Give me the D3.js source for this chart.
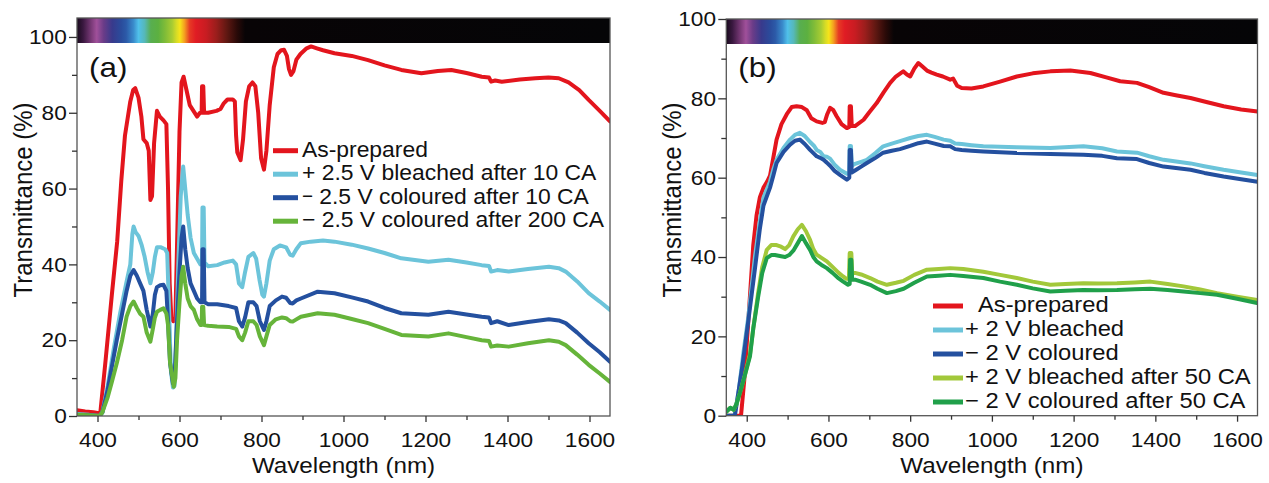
<!DOCTYPE html>
<html><head><meta charset="utf-8">
<script src="https://cdn.jsdelivr.net/npm/d3@7"></script>
<style>
body{margin:0;background:#fff;}
svg{display:block;font-family:"Liberation Sans",Arial,Helvetica,sans-serif;}
</style></head><body>
<svg id="c" width="1269" height="483"></svg>
<script>
// ---------- DATA ----------
const xMajorTicks = [400, 600, 800, 1000, 1200, 1400, 1600];
const xMinorTicks = [500, 700, 900, 1100, 1300, 1500];
const yMajorTicks = [0, 20, 40, 60, 80, 100];
const yMinorTicks = [10, 30, 50, 70, 90];

const legendA = ["As-prepared", "+ 2.5 V bleached after 10 CA", "− 2.5 V coloured after 10 CA", "− 2.5 V coloured after 200 CA"];
const legendB = ["As-prepared", "+ 2 V bleached", "− 2 V coloured", "+ 2 V bleached after 50 CA", "− 2 V coloured after 50 CA"];

const asPreparedA = [[350,1.5],[370,1.2],[390,1],[400,0.8],[407,1],[420,15],[435,32],[448,46],[458,62],[467,74],[480,83],[487,86],[492,86.5],[500,84],[507,79],[512,73],[520,72],[525,70],[529,57],[533,58],[538,72],[545,80.5],[552,79],[561,78],[568,77],[572,60],[576,35],[580,26],[585,25],[590,26],[594,45],[600,75],[605,88],[610,89.5],[617,86],[625,82],[634,80.5],[643,79],[650,80],[654,80],[655,87],[658,87],[660,80],[670,80],[690,80.5],[700,81],[708,82.5],[717,83.5],[730,83.5],[735,83],[738,74],[741,69.5],[749,67.5],[755,73],[762,83],[770,87],[778,88],[785,87],[792,80],[799,68],[806,65],[812,70],[820,82],[830,92],[839,95.5],[848,96.5],[855,96.6],[862,95],[867,91.5],[872,90],[878,91],[885,94],[895,95.5],[910,97],[921,97.5],[935,97],[950,96.5],[978,95.7],[1020,95],[1060,93.9],[1100,92.5],[1141,91.3],[1190,90.4],[1230,91],[1263,91.3],[1300,90.5],[1337,89.5],[1355,89.3],[1360,88.2],[1370,88.5],[1386,88.2],[1430,88.8],[1468,89.1],[1500,89.3],[1525,89.1],[1549,88],[1575,86],[1598,83.4],[1625,80.5],[1650,77.7]];
const bleachedA = [[350,0.5],[380,0.3],[405,0],[412,1],[425,8],[440,18],[455,27],[470,35],[480,40],[485,48],[488,50],[493,48.5],[500,47.5],[508,45],[515,42],[522,38],[529,35],[535,38],[540,42],[545,44.5],[555,44.5],[565,44],[570,43],[574,30],[579,12],[584,7.5],[588,8],[592,20],[597,40],[603,58],[609,65.8],[614,60],[620,53],[627,47],[635,43],[643,41.5],[651,40],[655,40.5],[656,55],[659,55],[661,40.5],[670,39.5],[692,39.8],[710,40.5],[730,41],[738,40],[745,35],[753,34],[760,38],[768,42],[780,43],[787,41.5],[795,36],[802,32],[806,31.5],[812,35],[820,41],[830,44],[845,45],[860,44.5],[870,42.5],[876,42.3],[885,44],[896,45.6],[920,46],[950,46.3],[978,46],[1020,45.2],[1060,44.2],[1100,43],[1141,41.6],[1207,40.7],[1256,41.2],[1300,40.5],[1337,39.8],[1355,39.6],[1360,38.1],[1375,38.5],[1403,38.1],[1450,38.8],[1501,39.4],[1525,39],[1542,38.1],[1570,35.5],[1598,32.4],[1625,30.2],[1650,28]];
const coloured10A = [[350,0.3],[380,0.2],[405,0],[412,1],[425,7],[435,13],[447,20],[460,27],[471,33],[480,37],[488,38.5],[496,37],[504,35],[512,33],[520,28],[529,23.6],[535,27],[540,32],[545,34],[553,34.5],[561,34.6],[568,33],[572,25],[577,14],[584,8.6],[588,10],[593,23],[600,38],[605,47],[609,50],[614,44],[620,39],[627,35],[635,33],[643,31],[651,30],[655,30],[656,44],[659,44],[661,30],[670,29.5],[692,29.5],[720,29],[738,28.5],[745,25],[753,23.6],[760,26],[768,30],[780,30],[788,29],[796,25],[806,22.7],[812,25],[820,29],[835,30.5],[850,31.5],[860,31.2],[870,29.8],[876,29.7],[885,30.5],[896,31],[937,32.8],[978,32.4],[1020,31.3],[1060,30.2],[1100,28.5],[1141,27.1],[1207,26.7],[1256,27.5],[1300,26.8],[1337,26.2],[1355,26],[1360,24.5],[1375,25],[1403,24],[1450,24.8],[1501,25.5],[1525,25.2],[1542,24.5],[1570,22],[1598,19.2],[1625,16.8],[1650,14.3]];
const coloured200A = [[350,0.3],[380,0.2],[405,0],[412,1],[425,5],[435,9],[447,13.9],[460,20],[471,26.2],[480,29],[488,30.2],[496,28.5],[504,27],[512,26.2],[520,22],[529,19.6],[535,23],[540,26],[545,27.5],[553,28],[561,28.4],[568,27],[572,24],[577,14],[586,7.7],[590,10],[594,20],[600,30],[605,37],[609,39.4],[614,35],[620,31],[627,29],[635,28],[643,25.5],[651,24],[654,24],[655,28.8],[658,28.8],[660,24],[670,23.8],[692,23.6],[720,23.5],[738,23],[745,21],[753,20],[760,22],[768,25],[780,25],[788,24],[796,21],[806,18.7],[812,21],[820,24],[835,25.5],[850,26],[860,25.8],[870,25],[876,24.9],[885,25.5],[896,26.2],[937,27.1],[978,26.7],[1020,25.6],[1060,24.5],[1100,23],[1141,21.4],[1207,21],[1256,21.8],[1300,20.8],[1337,20],[1355,19.8],[1360,18.3],[1375,18.6],[1403,18.3],[1450,19.2],[1501,20],[1525,19.6],[1542,18.7],[1570,16.2],[1598,13.5],[1625,11.2],[1650,9]];

const asPreparedB = [[350,0],[386,0],[394,9],[404,24],[416,43],[424,50.5],[432,55],[441,57.5],[450,59],[457,60.5],[465,65],[473,69.6],[485,73.5],[498,76],[510,77.8],[522,78],[535,77.8],[547,77],[558,75],[571,74.2],[585,73.8],[591,74],[597,76],[604,77.6],[612,77],[620,75.5],[632,73.5],[645,72.5],[651,72.8],[652,78],[655,78],[657,73],[665,73],[686,74.6],[700,76.5],[718,78.8],[735,81.5],[751,83.9],[765,85.5],[783,86.8],[792,86],[800,85.5],[810,87.5],[820,88.9],[830,88],[841,87],[852,86.5],[865,86],[880,85.5],[898,84.7],[905,85],[915,83.2],[926,82.6],[950,82.5],[979,83],[1020,84.2],[1061,85.5],[1100,86.3],[1143,86.8],[1192,87],[1241,86.4],[1280,85.3],[1314,84.3],[1355,83.9],[1385,82.8],[1420,81.4],[1450,80.8],[1486,80.1],[1520,79.2],[1567,78],[1610,77.2],[1650,76.7]];
const bleachedB = [[350,0],[370,0],[380,6],[392,16],[404,25],[420,40],[432,49],[441,55],[457,59],[465,62],[473,64.5],[490,67.5],[506,69.6],[518,70.8],[530,71.3],[542,70.5],[555,69],[565,68],[571,67],[580,66.5],[588,65.4],[596,65.3],[604,64.8],[615,63.3],[628,62],[645,61],[651,61.2],[652,68],[655,68],[657,63],[665,63.5],[680,64],[694,64.5],[715,66.2],[734,67.9],[755,68.6],[775,69.2],[800,70],[820,70.5],[841,70.8],[860,70.3],[882,69.6],[898,69.3],[910,68.6],[926,68.5],[950,68.2],[979,67.9],[1061,67.7],[1143,67.5],[1224,67.9],[1270,67.4],[1306,66.6],[1355,66.3],[1385,65.4],[1420,64.5],[1486,63.6],[1520,62.9],[1567,62],[1610,61.3],[1650,60.7]];
const colouredB = [[350,0],[371,0],[390,13],[404,24],[420,37],[432,47],[441,53],[457,57.5],[465,60.5],[473,63.7],[490,66.5],[506,68.3],[518,69.3],[530,69.6],[542,68.5],[555,67],[565,66],[571,65.4],[580,65],[588,64.5],[596,63.8],[604,63],[615,61.7],[628,60.7],[645,59.5],[651,60],[652,67],[655,67],[657,61.3],[665,61.8],[680,62.8],[694,63.7],[715,65],[734,66.3],[755,66.8],[775,67.2],[800,68],[820,68.7],[841,69.1],[860,68.6],[882,68],[898,67.9],[910,67.2],[926,67],[950,66.8],[979,66.6],[1061,66.2],[1143,66],[1224,65.8],[1270,65.5],[1306,64.9],[1355,64.7],[1385,63.7],[1420,62.8],[1486,62],[1520,61.2],[1567,60.3],[1610,59.6],[1650,59]];
const bleached50B = [[350,1],[360,2],[368,1.5],[375,3],[383,5.6],[395,10],[408,15.5],[416,22],[428,31],[438,37.5],[449,41.8],[460,43],[473,43],[484,42.6],[494,42],[504,43],[514,45.2],[525,47],[535,48.1],[545,46.5],[555,44.3],[563,42],[571,40.6],[583,39.8],[596,38.9],[610,37.5],[625,36],[636,35.1],[644,34.5],[650,34.5],[652,41],[656,41],[658,36],[665,36],[680,35.6],[702,34.7],[720,33.8],[743,33],[765,33.5],[784,34],[810,35.5],[841,36.8],[870,37],[898,37.2],[930,37],[979,36.3],[1020,35.5],[1061,34.7],[1100,33.8],[1143,33],[1180,33.2],[1224,33.4],[1260,33.3],[1306,33.4],[1350,33.6],[1388,33.8],[1430,33.2],[1469,32.6],[1510,31.8],[1551,30.9],[1600,30],[1649,29.2]];
const coloured50B = [[350,1],[360,2],[368,1.5],[375,3],[383,5.6],[395,10],[408,15],[416,22],[428,30],[438,36],[449,39.7],[460,40.5],[469,40.5],[484,40.2],[494,40],[504,40.5],[514,41.6],[525,43.5],[535,45.3],[545,43.5],[555,41.8],[563,40],[571,38.9],[583,38],[596,37.2],[610,36],[625,34.6],[636,33.8],[648,33],[652,33.2],[653,39.3],[656,39.3],[658,34.3],[665,34.3],[680,33.8],[702,33],[720,32],[743,30.9],[765,31.4],[784,32],[810,33.5],[841,35.1],[870,35.3],[898,35.5],[930,35.2],[979,34.7],[1020,33.8],[1061,33],[1100,32.1],[1143,31.3],[1180,31.5],[1224,31.7],[1260,31.6],[1306,31.7],[1350,31.9],[1388,32],[1430,31.7],[1469,31.3],[1510,30.9],[1551,30.5],[1600,29.5],[1649,28.4]];

// spectrum bar colours (wavelength, colour)
const spectrumStops = [[350,"#1a0b1e"],[365,"#3a1840"],[385,"#7a3a78"],[398,"#a0509a"],[415,"#6a3c88"],[436,"#383a8c"],[458,"#2a4c9c"],[470,"#2c5aa8"],[488,"#3a8ccc"],[500,"#50c0ea"],[515,"#56b8b8"],[530,"#58ae50"],[548,"#5cb040"],[565,"#80bc38"],[582,"#a8cc32"],[593,"#d8dc26"],[601,"#f6e41a"],[612,"#f4a020"],[625,"#e63a24"],[640,"#e01c24"],[665,"#c81c22"],[690,"#9a1e1c"],[715,"#601812"],[740,"#2a0a08"],[760,"#080406"],[1650,"#050507"]];

// ---------- DRAW ----------
const FONT = '"Liberation Sans", Arial, Helvetica, sans-serif';
const svg = d3.select("#c");
const defs = svg.append("defs");

function stext(g, x, y, str, size, sx, anchor) {
  return g.append("text")
    .attr("transform", `translate(${x},${y}) scale(${sx},1)`)
    .attr("font-size", size)
    .attr("font-family", FONT)
    .attr("text-anchor", anchor || "start")
    .attr("fill", "#111")
    .text(str);
}

function panel(cfg) {
  const g = svg.append("g");
  const x = d3.scaleLinear().domain([350, 1650]).range([cfg.x0, cfg.x1]);
  const y = d3.scaleLinear().domain([0, cfg.yMax]).range([cfg.yb, cfg.yt]);

  const clipId = "clip" + cfg.id;
  defs.append("clipPath").attr("id", clipId).append("rect")
    .attr("x", cfg.x0).attr("y", cfg.yt).attr("width", cfg.x1 - cfg.x0).attr("height", cfg.yb - cfg.yt);

  const gradId = "grad" + cfg.id;
  const grad = defs.append("linearGradient").attr("id", gradId)
    .attr("gradientUnits", "userSpaceOnUse")
    .attr("x1", x(350)).attr("x2", x(1650)).attr("y1", 0).attr("y2", 0);
  spectrumStops.forEach(s => grad.append("stop")
    .attr("offset", (x(s[0]) - x(350)) / (x(1650) - x(350)))
    .attr("stop-color", s[1]));

  // lines
  const line = d3.line().x(d => x(d[0])).y(d => y(d[1])).curve(d3.curveLinear);
  const lg = g.append("g").attr("clip-path", `url(#${clipId})`);
  cfg.series.forEach(s => {
    lg.append("path").datum(s.data).attr("d", line)
      .attr("fill", "none").attr("stroke", s.color).attr("stroke-width", 4)
      .attr("stroke-linejoin", "round").attr("stroke-linecap", "round");
  });

  // spectrum bar
  g.append("rect").attr("x", cfg.x0).attr("y", cfg.yt)
    .attr("width", cfg.x1 - cfg.x0).attr("height", cfg.barH)
    .attr("fill", `url(#${gradId})`);

  // frame
  g.append("rect").attr("x", cfg.x0).attr("y", cfg.yt)
    .attr("width", cfg.x1 - cfg.x0).attr("height", cfg.yb - cfg.yt)
    .attr("fill", "none").attr("stroke", "#555").attr("stroke-width", 1.3);

  // axes
  const styleAxis = (ax) => {
    ax.attr("font-family", FONT).attr("font-size", 21);
    ax.select(".domain").remove();
    ax.selectAll(".tick line").attr("stroke", "#333").attr("stroke-width", 1.3);
  };
  const xa = g.append("g").attr("transform", `translate(0,${cfg.yb})`)
    .call(d3.axisBottom(x).tickValues(xMajorTicks).tickSize(6).tickPadding(10).tickFormat(d3.format("d")));
  styleAxis(xa);
  xa.selectAll(".tick text").attr("fill", "#111").attr("transform", "scale(1.08,1)");
  const xm = g.append("g").attr("transform", `translate(0,${cfg.yb})`)
    .call(d3.axisBottom(x).tickValues(xMinorTicks).tickSize(4).tickFormat(""));
  styleAxis(xm);

  const ya = g.append("g").attr("transform", `translate(${cfg.x0},0)`)
    .call(d3.axisLeft(y).tickValues(yMajorTicks).tickSize(8).tickPadding(1.5).tickFormat(d3.format("d")));
  styleAxis(ya);
  ya.selectAll(".tick text").attr("fill", "#111").attr("transform", "scale(1.08,1)");
  const ym = g.append("g").attr("transform", `translate(${cfg.x0},0)`)
    .call(d3.axisLeft(y).tickValues(yMinorTicks).tickSize(5).tickFormat(""));
  styleAxis(ym);

  // titles
  stext(g, (cfg.x0 + cfg.x1) / 2, 473, "Wavelength (nm)", 22, 1.1, "middle");
  g.append("text")
    .attr("transform", `translate(${cfg.x0 - 45},200) scale(1.1,1) rotate(-90)`)
    .attr("font-size", 24).attr("font-family", FONT).attr("text-anchor", "middle").attr("fill", "#111")
    .text("Transmittance (%)");
  stext(g, cfg.x0 + 12, 77, cfg.label, 28, 1.12, "start");

  // legend
  cfg.series.forEach((s, i) => {
    const ly = cfg.leg.y0 + i * cfg.leg.dy;
    g.append("line").attr("x1", cfg.leg.lx0).attr("x2", cfg.leg.lx1)
      .attr("y1", ly).attr("y2", ly)
      .attr("stroke", s.color).attr("stroke-width", 5);
    const tx = (i === 0 && cfg.leg.firstX) ? cfg.leg.firstX : cfg.leg.tx;
    const t = g.append("text")
      .attr("transform", `translate(${tx},${ly + 6}) scale(${cfg.leg.sx},1)`)
      .attr("font-size", 22).attr("font-family", FONT).attr("fill", "#111");
    if (s.raiseMinus) {
      t.append("tspan").attr("dy", -2).attr("font-size", 18).text("−");
      t.append("tspan").attr("dy", 2).text(s.name.slice(1));
    } else {
      t.text(s.name);
    }
  });
}

panel({
  id: "a", x0: 77, x1: 610, yt: 18, yb: 416, yMax: 105, barH: 25, label: "(a)",
  series: [
    {name: legendA[0], data: asPreparedA, color: "#e3151d"},
    {name: legendA[1], data: bleachedA, color: "#6cc4da"},
    {name: legendA[2], data: coloured10A, color: "#24509f", raiseMinus: true},
    {name: legendA[3], data: coloured200A, color: "#66b43a"}
  ],
  leg: {lx0: 273, lx1: 298, tx: 302, y0: 150.7, dy: 23.5, sx: 1.04}
});

panel({
  id: "b", x0: 726.3, x1: 1257.5, yt: 19, yb: 415.7, yMax: 100, barH: 25, label: "(b)",
  series: [
    {name: legendB[0], data: asPreparedB, color: "#e3151d"},
    {name: legendB[1], data: bleachedB, color: "#6cc4da"},
    {name: legendB[2], data: colouredB, color: "#24509f"},
    {name: legendB[3], data: bleached50B, color: "#a2c83a"},
    {name: legendB[4], data: coloured50B, color: "#20a04a"}
  ],
  leg: {lx0: 933, lx1: 963, tx: 965, firstX: 978, y0: 306, dy: 24, sx: 1.08}
});
</script>
</body></html>
